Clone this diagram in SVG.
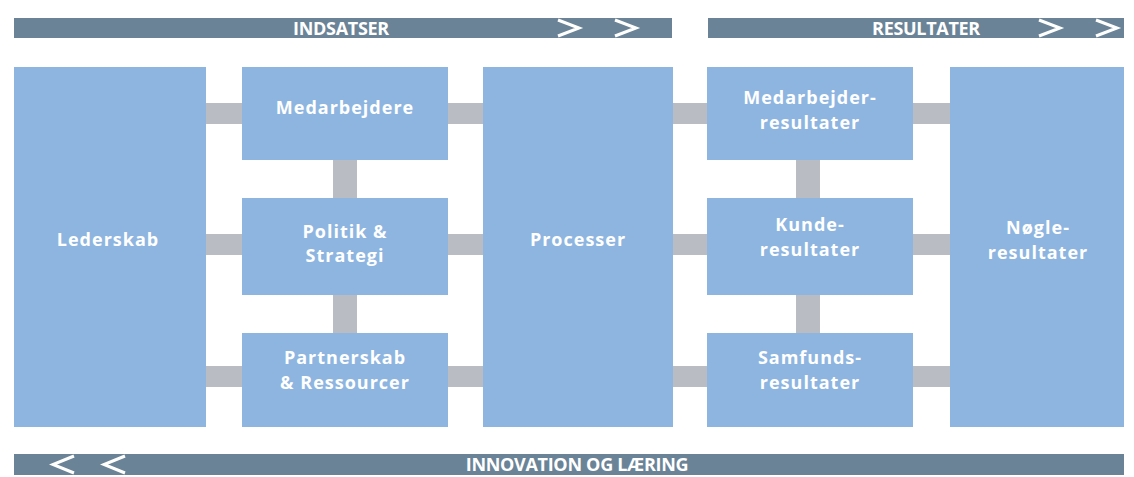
<svg xmlns="http://www.w3.org/2000/svg" width="1134" height="477" viewBox="0 0 1134 477">
  <style>
    .box { fill: #8db5e0; }
    .bar { fill: #6b8397; }
    .link { fill: #b9bcc3; }
    .label { font-family: "Open Sans", "Liberation Sans", sans-serif; font-weight: bold; font-size: 18px; fill: #ffffff; text-anchor: middle; letter-spacing: 1px; }
    .barlabel { font-family: "Open Sans", "Liberation Sans", sans-serif; font-weight: bold; font-size: 18px; fill: #ffffff; text-anchor: middle; letter-spacing: -0.3px; }
    .chev { fill: none; stroke: #ffffff; stroke-width: 3; stroke-linejoin: miter; }
  </style>
  <rect width="1134" height="477" fill="#ffffff"/>

  <!-- header and footer bars -->
  <g id="bar-indsatser">
    <rect class="bar" x="14" y="18" width="658" height="20"/>
    <text class="barlabel" x="341" y="34.5">INDSATSER</text>
    <polyline class="chev" points="558,20 579,28 558,36"/>
    <polyline class="chev" points="615,20 636,28 615,36"/>
  </g>
  <g id="bar-resultater">
    <rect class="bar" x="708" y="18" width="416" height="20"/>
    <text class="barlabel" x="926" y="34.5">RESULTATER</text>
    <polyline class="chev" points="1039,20 1060,28 1039,36"/>
    <polyline class="chev" points="1096,20 1117,28 1096,36"/>
  </g>
  <g id="bar-innovation">
    <rect class="bar" x="14" y="454" width="1110" height="21"/>
    <text class="barlabel" x="577" y="471">INNOVATION OG LÆRING</text>
    <polyline class="chev" points="74,456 53,464.5 74,473"/>
    <polyline class="chev" points="125,456 104,464.5 125,473"/>
  </g>

  <!-- connectors -->
  <g id="connectors">
    <rect class="link" x="206" y="103" width="36" height="21"/>
    <rect class="link" x="206" y="234" width="36" height="21"/>
    <rect class="link" x="206" y="366" width="36" height="21"/>
    <rect class="link" x="448" y="103" width="35" height="21"/>
    <rect class="link" x="448" y="234" width="35" height="21"/>
    <rect class="link" x="448" y="366" width="35" height="21"/>
    <rect class="link" x="333" y="160" width="24" height="38"/>
    <rect class="link" x="333" y="295" width="24" height="38"/>
    <rect class="link" x="673" y="103" width="34" height="21"/>
    <rect class="link" x="673" y="234" width="34" height="21"/>
    <rect class="link" x="673" y="366" width="34" height="21"/>
    <rect class="link" x="913" y="103" width="37" height="21"/>
    <rect class="link" x="913" y="234" width="37" height="21"/>
    <rect class="link" x="913" y="366" width="37" height="21"/>
    <rect class="link" x="796" y="160" width="24" height="38"/>
    <rect class="link" x="796" y="295" width="24" height="38"/>
  </g>

  <!-- nodes -->
  <g id="lederskab">
    <rect class="box" x="14" y="67" width="192" height="360"/>
    <text class="label" x="108" y="246">Lederskab</text>
  </g>
  <g id="medarbejdere">
    <rect class="box" x="242" y="67" width="206" height="93"/>
    <text class="label" x="345" y="114">Medarbejdere</text>
  </g>
  <g id="politik">
    <rect class="box" x="242" y="198" width="206" height="97"/>
    <text class="label" x="345" y="238">Politik &amp;</text>
    <text class="label" x="345" y="262">Strategi</text>
  </g>
  <g id="partnerskab">
    <rect class="box" x="242" y="333" width="206" height="94"/>
    <text class="label" x="345" y="364">Partnerskab</text>
    <text class="label" x="345" y="389">&amp; Ressourcer</text>
  </g>
  <g id="processer">
    <rect class="box" x="483" y="67" width="190" height="360"/>
    <text class="label" x="578" y="246">Processer</text>
  </g>
  <g id="medarbejder-resultater">
    <rect class="box" x="707" y="67" width="206" height="93"/>
    <text class="label" x="810" y="104">Medarbejder-</text>
    <text class="label" x="810" y="129">resultater</text>
  </g>
  <g id="kunde-resultater">
    <rect class="box" x="707" y="198" width="206" height="97"/>
    <text class="label" x="810" y="231">Kunde-</text>
    <text class="label" x="810" y="256">resultater</text>
  </g>
  <g id="samfunds-resultater">
    <rect class="box" x="707" y="333" width="206" height="94"/>
    <text class="label" x="810" y="364">Samfunds-</text>
    <text class="label" x="810" y="389">resultater</text>
  </g>
  <g id="noegle-resultater">
    <rect class="box" x="950" y="67" width="174" height="360"/>
    <text class="label" x="1038" y="234">Nøgle-</text>
    <text class="label" x="1038" y="259">resultater</text>
  </g>
</svg>
